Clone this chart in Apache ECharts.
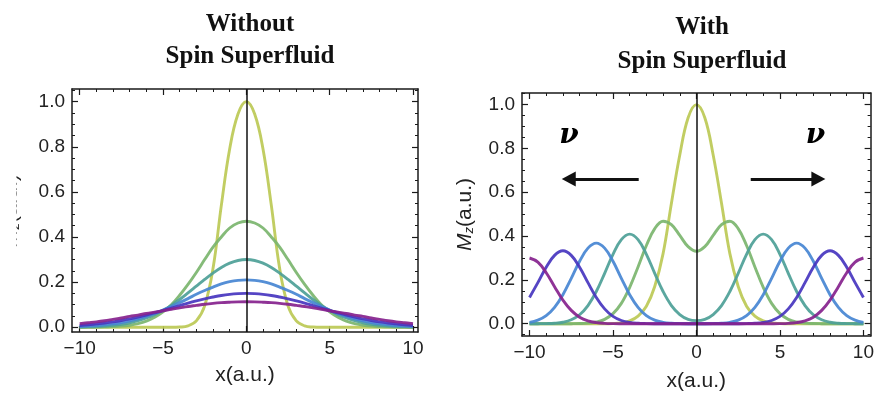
<!DOCTYPE html>
<html><head><meta charset="utf-8">
<script src="https://cdn.jsdelivr.net/npm/echarts@6/dist/echarts.min.js"></script>
<style>html,body{margin:0;padding:0;background:#fff}#c{width:877px;height:397px}</style>
</head><body><div id="c"></div>
<script>
// ---- data ----
const xs = [-10,-9.5,-9,-8.5,-8,-7.5,-7,-6.5,-6,-5.5,-5,-4.5,-4,-3.5,-3,-2.5,-2,-1.5,-1,-0.5,0,0.5,1,1.5,2,2.5,3,3.5,4,4.5,5,5.5,6,6.5,7,7.5,8,8.5,9,9.5,10];
// Left panel: without spin superfluid
const leftYellow = [0,0,0,0,0,0,0,0,0,0,0,0,.001,.006,.028,.095,.26,.54,.79,.945,1.0,.945,.79,.54,.26,.095,.028,.006,.001,0,0,0,0,0,0,0,0,0,0,0,0];
const leftGreen  = [0,.0005,.001,.0015,.003,.005,.009,.016,.027,.044,.068,.10,.142,.19,.243,.30,.355,.40,.44,.462,.47,.462,.44,.40,.355,.30,.243,.19,.142,.10,.068,.044,.027,.016,.009,.005,.003,.0015,.001,.0005,0];
const leftTeal   = [.0012,.002,.0033,.0055,.0085,.013,.020,.029,.041,.056,.075,.097,.123,.152,.182,.212,.240,.265,.284,.296,.30,.296,.284,.265,.240,.212,.182,.152,.123,.097,.075,.056,.041,.029,.020,.013,.0085,.0055,.0033,.002,.0012];
const leftBlue   = [.0035,.0053,.0077,.011,.015,.021,.028,.037,.048,.061,.076,.092,.109,.127,.146,.163,.178,.192,.202,.208,.21,.208,.202,.192,.178,.163,.146,.127,.109,.092,.076,.061,.048,.037,.028,.021,.015,.011,.0077,.0053,.0035];
const leftIndigo = [.008,.011,.015,.019,.024,.030,.037,.045,.054,.064,.074,.085,.096,.107,.117,.126,.134,.141,.146,.149,.15,.149,.146,.141,.134,.126,.117,.107,.096,.085,.074,.064,.054,.045,.037,.030,.024,.019,.015,.011,.008];
const leftPurple = [.016,.020,.024,.029,.035,.041,.048,.054,.061,.067,.073,.080,.086,.092,.097,.102,.106,.109,.111,.1125,.113,.1125,.111,.109,.106,.102,.097,.092,.086,.080,.073,.067,.061,.054,.048,.041,.035,.029,.024,.020,.016];
// Right panel: with spin superfluid
const rightYellow = [0,0,0,0,0,0,0,0,0,0,.001,.004,.013,.035,.08,.17,.32,.55,.77,.94,1.0,.94,.77,.55,.32,.17,.08,.035,.013,.004,.001,0,0,0,0,0,0,0,0,0,0];
const rightGreen  = [0,0,0,0,0,.0002,.0008,.0026,.0078,.020,.046,.093,.166,.259,.357,.434,.468,.452,.403,.352,.331,.352,.403,.452,.468,.434,.357,.259,.166,.093,.046,.020,.0078,.0026,.0008,.0002,0,0,0,0,0];
const rightTeal   = [0,.0002,.0007,.0023,.0069,.018,.041,.083,.147,.230,.317,.384,.409,.384,.317,.230,.147,.083,.042,.020,.014,.020,.042,.083,.147,.230,.317,.384,.409,.384,.317,.230,.147,.083,.041,.018,.0069,.0023,.0007,.0002,0];
const rightBlue   = [.0062,.0162,.0368,.0747,.1325,.207,.285,.345,.368,.345,.285,.207,.1325,.0747,.0368,.0162,.0062,.0021,.0006,.0001,.0001,.0001,.0006,.0021,.0062,.0162,.0368,.0747,.1325,.207,.285,.345,.368,.345,.285,.207,.1325,.0747,.0368,.0162,.0062];
const rightIndigo = [.12,.1875,.258,.312,.333,.312,.258,.1875,.12,.0676,.0333,.0147,.0056,.0019,.0006,.0001,0,0,0,0,0,0,0,0,0,.0001,.0006,.0019,.0056,.0147,.0333,.0676,.12,.1875,.258,.312,.333,.312,.258,.1875,.12];
const rightPurple = [.30,.281,.2325,.169,.108,.061,.030,.0132,.0051,.0017,.0005,.0001,0,0,0,0,0,0,0,0,0,0,0,0,0,0,0,0,0,.0001,.0005,.0017,.0051,.0132,.030,.061,.108,.169,.2325,.281,.30];

const xMajor = [-10,-5,0,5,10];
const xMinor = [-9,-8,-7,-6,-4,-3,-2,-1,1,2,3,4,6,7,8,9];
const yMajor = [0,0.2,0.4,0.6,0.8,1.0];
const yMinor = [-0.05,0.05,0.1,0.15,0.25,0.3,0.35,0.45,0.5,0.55,0.65,0.7,0.75,0.85,0.9,0.95,1.05];

const titles = ['Without\nSpin Superfluid', 'With\nSpin Superfluid'];
const xName = 'x(a.u.)';
const yName = '{it|M}{sub|z}{n|(a.u.)}';
const nuLabel = 'ν';
// annotation anchors (data coords, right panel)
const nuPoints = [[-7.63, 0.874], [7.12, 0.874]];
const arrowLines = [[[-3.46, 0.66], [-7.65, 0.66]], [[3.25, 0.66], [7.30, 0.66]]];

const colors = ['#bcc955', '#7bb56e', '#4d9f97', '#4786d3', '#4735bf', '#85228d'];

// ---- layout ----
const grids = [
  {left: 70, right: 459, top: 89, bottom: 65},
  {left: 522, right: 5, top: 93, bottom: 60}
];
const ranges = [
  {x: [-10.46, 10.3], y: [-0.021, 1.056]},
  {x: [-10.45, 10.43], y: [-0.056, 1.053]}
];
const FRAME = '#1a1a1a';
const inRange = (arr, r) => arr.filter(v => v >= r[0] && v <= r[1]);
const fmtX = v => (v < 0 ? '\u2212' + Math.abs(v) : String(v));

const xAxis = [], yAxis = [];
grids.forEach((g, gi) => {
  const r = ranges[gi];
  const base = {type: 'value', gridIndex: gi, min: r.x[0], max: r.x[1], splitLine: {show: false}};
  xAxis.push(Object.assign({}, base, {
    position: 'bottom',
    axisLine: {show: true, onZero: false, lineStyle: {color: FRAME, width: 1.5}},
    axisTick: {show: true, inside: true, length: 6, customValues: xMajor, lineStyle: {color: FRAME, width: 1.2}},
    axisLabel: {show: true, customValues: xMajor, formatter: fmtX, margin: 7, color: '#222', fontSize: 19, fontFamily: 'Liberation Sans'},
    name: xName, nameLocation: 'middle', nameGap: gi === 0 ? 33 : 35,
    nameTextStyle: {color: '#222', fontSize: 21, fontFamily: 'Liberation Sans'}
  }));
  xAxis.push(Object.assign({}, base, {
    position: 'bottom', axisLine: {show: false, onZero: false},
    axisTick: {show: true, inside: true, length: 3, customValues: xMinor, lineStyle: {color: FRAME, width: 1}},
    axisLabel: {show: false}
  }));
  xAxis.push(Object.assign({}, base, {
    position: 'top',
    axisLine: {show: true, onZero: false, lineStyle: {color: FRAME, width: 1.5}},
    axisTick: {show: true, inside: true, length: 6, customValues: xMajor, lineStyle: {color: FRAME, width: 1.2}},
    axisLabel: {show: false}
  }));
  xAxis.push(Object.assign({}, base, {
    position: 'top', axisLine: {show: false, onZero: false},
    axisTick: {show: true, inside: true, length: 3, customValues: xMinor, lineStyle: {color: FRAME, width: 1}},
    axisLabel: {show: false}
  }));
  const ybase = {type: 'value', gridIndex: gi, min: r.y[0], max: r.y[1], splitLine: {show: false}};
  const yMin = inRange(yMinor, r.y);
  yAxis.push(Object.assign({}, ybase, {
    position: 'left',
    axisLine: {show: true, onZero: false, lineStyle: {color: FRAME, width: 1.5}},
    axisTick: {show: true, inside: true, length: 6, customValues: yMajor, lineStyle: {color: FRAME, width: 1.2}},
    axisLabel: {show: true, customValues: yMajor, formatter: v => v.toFixed(1), margin: 7, color: '#222', fontSize: 19, fontFamily: 'Liberation Sans'},
    name: yName, nameLocation: 'middle', nameRotate: 90, nameGap: gi === 0 ? 50 : 46,
    nameTextStyle: {color: '#222', fontSize: 21, fontFamily: 'Liberation Sans',
      rich: {it: {fontStyle: 'italic', fontSize: 21, fontFamily: 'Liberation Sans', color: '#222'},
             sub: {fontStyle: 'italic', fontSize: 13, verticalAlign: 'bottom', fontFamily: 'Liberation Sans', color: '#222'},
             n: {fontSize: 21, fontFamily: 'Liberation Sans', color: '#222'}}}
  }));
  yAxis.push(Object.assign({}, ybase, {
    position: 'left', axisLine: {show: false, onZero: false},
    axisTick: {show: true, inside: true, length: 3, customValues: yMin, lineStyle: {color: FRAME, width: 1}},
    axisLabel: {show: false}
  }));
  yAxis.push(Object.assign({}, ybase, {
    position: 'right',
    axisLine: {show: true, onZero: false, lineStyle: {color: FRAME, width: 1.5}},
    axisTick: {show: true, inside: true, length: 6, customValues: yMajor, lineStyle: {color: FRAME, width: 1.2}},
    axisLabel: {show: false}
  }));
  yAxis.push(Object.assign({}, ybase, {
    position: 'right', axisLine: {show: false, onZero: false},
    axisTick: {show: true, inside: true, length: 3, customValues: yMin, lineStyle: {color: FRAME, width: 1}},
    axisLabel: {show: false}
  }));
});

const panels = [
  [leftYellow, leftGreen, leftTeal, leftBlue, leftIndigo, leftPurple],
  [rightYellow, rightGreen, rightTeal, rightBlue, rightIndigo, rightPurple]
];
const series = [];
panels.forEach((curves, gi) => {
  curves.forEach((vals, ci) => {
    const s = {
      type: 'line', xAxisIndex: gi * 4, yAxisIndex: gi * 4,
      data: xs.map((x, i) => [x, vals[i]]),
      smooth: 0.4, showSymbol: false, silent: true, animation: false,
      lineStyle: {color: colors[ci], width: 2.9, opacity: 0.92},
      itemStyle: {color: colors[ci]}
    };
    if (ci === curves.length - 1) {
      s.markLine = {silent: true, symbol: 'none', animation: false, label: {show: false},
        lineStyle: {color: '#111', width: 1.5, type: 'solid'}, data: [{xAxis: 0}]};
    }
    series.push(s);
  });
});
// ν labels and arrows in the right panel
series.push({
  type: 'scatter', xAxisIndex: 4, yAxisIndex: 4, silent: true, animation: false,
  symbol: 'circle', symbolSize: 1, itemStyle: {color: '#ffffff'},
  data: nuPoints,
  label: {show: true, position: 'top', distance: -18, formatter: nuLabel, color: '#000', opacity: 1,
    textBorderWidth: 0, fontSize: 28, fontStyle: 'italic', fontWeight: 'bold', fontFamily: 'DejaVu Serif'},
  markLine: {silent: true, animation: false, symbol: ['none', 'triangle'], symbolSize: [15, 14],
    label: {show: false}, lineStyle: {color: '#111', width: 3.2, type: 'solid'},
    itemStyle: {color: '#111'},
    data: arrowLines.map(l => [{coord: l[0]}, {coord: l[1]}])}
});

const chart = echarts.init(document.getElementById('c'), null, {renderer: 'canvas'});
chart.setOption({
  animation: false,
  backgroundColor: '#fff',
  title: [
    {text: titles[0], left: 245, top: 4, textAlign: 'center',
     textStyle: {fontFamily: 'Liberation Serif', fontWeight: 'bold', fontSize: 25, lineHeight: 32, color: '#111'}},
    {text: titles[1], left: 697, top: 6, textAlign: 'center',
     textStyle: {fontFamily: 'Liberation Serif', fontWeight: 'bold', fontSize: 25, lineHeight: 34, color: '#111'}}
  ],
  grid: grids,
  xAxis, yAxis, series,
  graphic: [{type: 'rect', z: 100, shape: {x: 0, y: 140, width: 16.5, height: 150}, style: {fill: '#fff'}}]
});
</script></body></html>
